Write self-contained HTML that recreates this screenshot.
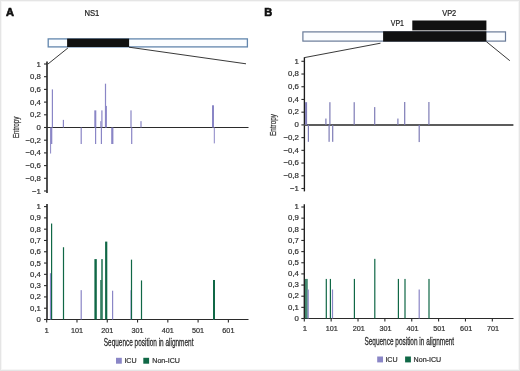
<!DOCTYPE html>
<html><head><meta charset="utf-8"><style>
html,body{margin:0;padding:0;background:#fff;}
body{width:520px;height:371px;overflow:hidden;position:relative;}
.frame{position:absolute;left:0;top:0;width:518px;height:369px;border:1px solid #e5e5e5;}
.inner{position:absolute;left:1px;top:1px;width:516px;height:367px;border:1px solid #f6f6f6;}
svg{position:absolute;left:0;top:0;font-family:"Liberation Sans", sans-serif;will-change:transform;}
</style></head><body>
<div class="frame"></div><div class="inner"></div>
<svg width="520" height="371" viewBox="0 0 520 371">
<text x="6" y="15.8" font-size="11" text-anchor="start" fill="#111" font-weight="bold" stroke="#111" stroke-width="0.65">A</text>
<text x="84.4" y="15.7" font-size="8.2" text-anchor="start" fill="#222" font-weight="normal" stroke="#222" stroke-width="0.22" textLength="14.9" lengthAdjust="spacingAndGlyphs">NS1</text>
<rect x="48.2" y="38.9" width="199.2" height="8.0" fill="#fbfdff" stroke="#6286ad" stroke-width="1.3"/>
<rect x="67.1" y="38.6" width="62" height="8.4" fill="#111"/>
<line x1="67.9" y1="48.0" x2="47.6" y2="64.3" stroke="#222" stroke-width="0.9"/>
<line x1="129" y1="47.2" x2="246" y2="63.8" stroke="#222" stroke-width="0.9"/>
<line x1="47" y1="61.4" x2="47" y2="193" stroke="#3c3c3c" stroke-width="1.8"/>
<line x1="44" y1="64.0" x2="47" y2="64.0" stroke="#2b2b2b" stroke-width="1.1"/>
<text x="40.9" y="66.55" font-size="7.8" text-anchor="end" fill="#333" font-weight="normal" stroke="#333" stroke-width="0.22">1</text>
<line x1="44" y1="76.7" x2="47" y2="76.7" stroke="#2b2b2b" stroke-width="1.1"/>
<text x="40.9" y="79.25" font-size="7.8" text-anchor="end" fill="#333" font-weight="normal" stroke="#333" stroke-width="0.22">0,8</text>
<line x1="44" y1="89.4" x2="47" y2="89.4" stroke="#2b2b2b" stroke-width="1.1"/>
<text x="40.9" y="91.95" font-size="7.8" text-anchor="end" fill="#333" font-weight="normal" stroke="#333" stroke-width="0.22">0,6</text>
<line x1="44" y1="102.1" x2="47" y2="102.1" stroke="#2b2b2b" stroke-width="1.1"/>
<text x="40.9" y="104.64999999999999" font-size="7.8" text-anchor="end" fill="#333" font-weight="normal" stroke="#333" stroke-width="0.22">0,4</text>
<line x1="44" y1="114.8" x2="47" y2="114.8" stroke="#2b2b2b" stroke-width="1.1"/>
<text x="40.9" y="117.35" font-size="7.8" text-anchor="end" fill="#333" font-weight="normal" stroke="#333" stroke-width="0.22">0,2</text>
<line x1="44" y1="127.5" x2="47" y2="127.5" stroke="#2b2b2b" stroke-width="1.1"/>
<text x="40.9" y="130.05" font-size="7.8" text-anchor="end" fill="#333" font-weight="normal" stroke="#333" stroke-width="0.22">0</text>
<line x1="44" y1="140.2" x2="47" y2="140.2" stroke="#2b2b2b" stroke-width="1.1"/>
<text x="40.9" y="142.75" font-size="7.8" text-anchor="end" fill="#333" font-weight="normal" stroke="#333" stroke-width="0.22">−0,2</text>
<line x1="44" y1="152.9" x2="47" y2="152.9" stroke="#2b2b2b" stroke-width="1.1"/>
<text x="40.9" y="155.45000000000002" font-size="7.8" text-anchor="end" fill="#333" font-weight="normal" stroke="#333" stroke-width="0.22">−0,4</text>
<line x1="44" y1="165.6" x2="47" y2="165.6" stroke="#2b2b2b" stroke-width="1.1"/>
<text x="40.9" y="168.15" font-size="7.8" text-anchor="end" fill="#333" font-weight="normal" stroke="#333" stroke-width="0.22">−0,6</text>
<line x1="44" y1="178.3" x2="47" y2="178.3" stroke="#2b2b2b" stroke-width="1.1"/>
<text x="40.9" y="180.85000000000002" font-size="7.8" text-anchor="end" fill="#333" font-weight="normal" stroke="#333" stroke-width="0.22">−0,8</text>
<line x1="44" y1="191.0" x2="47" y2="191.0" stroke="#2b2b2b" stroke-width="1.1"/>
<text x="40.9" y="193.55" font-size="7.8" text-anchor="end" fill="#333" font-weight="normal" stroke="#333" stroke-width="0.22">−1</text>
<line x1="47" y1="127.5" x2="248.5" y2="127.5" stroke="#2b2b2b" stroke-width="1.1"/>
<rect x="51.8" y="89.4" width="1.2" height="38.1" fill="#8a86c6"/>
<rect x="62.8" y="119.88" width="1.2" height="7.62" fill="#8a86c6"/>
<rect x="94.3" y="110.36" width="2" height="17.14" fill="#8a86c6"/>
<rect x="100.3" y="121.15" width="1" height="6.35" fill="#8a86c6"/>
<rect x="101.3" y="110.36" width="1.2" height="17.14" fill="#8a86c6"/>
<rect x="104.9" y="83.69" width="1.2" height="43.81" fill="#8a86c6"/>
<rect x="105.7" y="105.91" width="1.2" height="21.59" fill="#8a86c6"/>
<rect x="130.4" y="110.36" width="1.2" height="17.14" fill="#8a86c6"/>
<rect x="140.4" y="121.15" width="1.2" height="6.35" fill="#8a86c6"/>
<rect x="212.0" y="105.28" width="2" height="22.22" fill="#8a86c6"/>
<rect x="50.1" y="127.5" width="1" height="26.03" fill="#8a86c6"/>
<rect x="50.9" y="127.5" width="1.4" height="16.51" fill="#8a86c6"/>
<rect x="80.6" y="127.5" width="1.2" height="16.51" fill="#8a86c6"/>
<rect x="95.0" y="127.5" width="1.2" height="16.51" fill="#8a86c6"/>
<rect x="100.8" y="127.5" width="1.2" height="16.51" fill="#8a86c6"/>
<rect x="111.2" y="127.5" width="2.2" height="16.51" fill="#8a86c6"/>
<rect x="131.1" y="127.5" width="1.2" height="16.51" fill="#8a86c6"/>
<rect x="213.8" y="127.5" width="1" height="15.88" fill="#8a86c6"/>
<text x="0" y="0" font-size="8.2" text-anchor="middle" fill="#333" stroke="#333" stroke-width="0.22" textLength="21.8" lengthAdjust="spacingAndGlyphs" transform="translate(19.3,127.4) rotate(-90)">Entropy</text>
<line x1="47" y1="204" x2="47" y2="319.5" stroke="#3c3c3c" stroke-width="1.8"/>
<line x1="44" y1="206.6" x2="47" y2="206.6" stroke="#2b2b2b" stroke-width="1.1"/>
<text x="40.9" y="209.15" font-size="7.8" text-anchor="end" fill="#333" font-weight="normal" stroke="#333" stroke-width="0.22">1</text>
<line x1="44" y1="217.89" x2="47" y2="217.89" stroke="#2b2b2b" stroke-width="1.1"/>
<text x="40.9" y="220.44" font-size="7.8" text-anchor="end" fill="#333" font-weight="normal" stroke="#333" stroke-width="0.22">0,9</text>
<line x1="44" y1="229.18" x2="47" y2="229.18" stroke="#2b2b2b" stroke-width="1.1"/>
<text x="40.9" y="231.73000000000002" font-size="7.8" text-anchor="end" fill="#333" font-weight="normal" stroke="#333" stroke-width="0.22">0,8</text>
<line x1="44" y1="240.47" x2="47" y2="240.47" stroke="#2b2b2b" stroke-width="1.1"/>
<text x="40.9" y="243.02" font-size="7.8" text-anchor="end" fill="#333" font-weight="normal" stroke="#333" stroke-width="0.22">0,7</text>
<line x1="44" y1="251.76" x2="47" y2="251.76" stroke="#2b2b2b" stroke-width="1.1"/>
<text x="40.9" y="254.31" font-size="7.8" text-anchor="end" fill="#333" font-weight="normal" stroke="#333" stroke-width="0.22">0,6</text>
<line x1="44" y1="263.05" x2="47" y2="263.05" stroke="#2b2b2b" stroke-width="1.1"/>
<text x="40.9" y="265.6" font-size="7.8" text-anchor="end" fill="#333" font-weight="normal" stroke="#333" stroke-width="0.22">0,5</text>
<line x1="44" y1="274.34000000000003" x2="47" y2="274.34000000000003" stroke="#2b2b2b" stroke-width="1.1"/>
<text x="40.9" y="276.89000000000004" font-size="7.8" text-anchor="end" fill="#333" font-weight="normal" stroke="#333" stroke-width="0.22">0,4</text>
<line x1="44" y1="285.63" x2="47" y2="285.63" stroke="#2b2b2b" stroke-width="1.1"/>
<text x="40.9" y="288.18" font-size="7.8" text-anchor="end" fill="#333" font-weight="normal" stroke="#333" stroke-width="0.22">0,3</text>
<line x1="44" y1="296.92" x2="47" y2="296.92" stroke="#2b2b2b" stroke-width="1.1"/>
<text x="40.9" y="299.47" font-size="7.8" text-anchor="end" fill="#333" font-weight="normal" stroke="#333" stroke-width="0.22">0,2</text>
<line x1="44" y1="308.21" x2="47" y2="308.21" stroke="#2b2b2b" stroke-width="1.1"/>
<text x="40.9" y="310.76" font-size="7.8" text-anchor="end" fill="#333" font-weight="normal" stroke="#333" stroke-width="0.22">0,1</text>
<line x1="44" y1="319.5" x2="47" y2="319.5" stroke="#2b2b2b" stroke-width="1.1"/>
<text x="40.9" y="322.05" font-size="7.8" text-anchor="end" fill="#333" font-weight="normal" stroke="#333" stroke-width="0.22">0</text>
<line x1="47" y1="319.5" x2="248.5" y2="319.5" stroke="#2b2b2b" stroke-width="1.1"/>
<line x1="46.7" y1="319.5" x2="46.7" y2="322.5" stroke="#2b2b2b" stroke-width="1.1"/>
<text x="46.7" y="332.5" font-size="7.8" text-anchor="middle" fill="#333" font-weight="normal" stroke="#333" stroke-width="0.22">1</text>
<line x1="76.98" y1="319.5" x2="76.98" y2="322.5" stroke="#2b2b2b" stroke-width="1.1"/>
<text x="76.98" y="332.5" font-size="7.8" text-anchor="middle" fill="#333" font-weight="normal" stroke="#333" stroke-width="0.22" textLength="12.1" lengthAdjust="spacingAndGlyphs">101</text>
<line x1="107.26" y1="319.5" x2="107.26" y2="322.5" stroke="#2b2b2b" stroke-width="1.1"/>
<text x="107.26" y="332.5" font-size="7.8" text-anchor="middle" fill="#333" font-weight="normal" stroke="#333" stroke-width="0.22" textLength="12.1" lengthAdjust="spacingAndGlyphs">201</text>
<line x1="137.54000000000002" y1="319.5" x2="137.54000000000002" y2="322.5" stroke="#2b2b2b" stroke-width="1.1"/>
<text x="137.54000000000002" y="332.5" font-size="7.8" text-anchor="middle" fill="#333" font-weight="normal" stroke="#333" stroke-width="0.22" textLength="12.1" lengthAdjust="spacingAndGlyphs">301</text>
<line x1="167.82" y1="319.5" x2="167.82" y2="322.5" stroke="#2b2b2b" stroke-width="1.1"/>
<text x="167.82" y="332.5" font-size="7.8" text-anchor="middle" fill="#333" font-weight="normal" stroke="#333" stroke-width="0.22" textLength="12.1" lengthAdjust="spacingAndGlyphs">401</text>
<line x1="198.10000000000002" y1="319.5" x2="198.10000000000002" y2="322.5" stroke="#2b2b2b" stroke-width="1.1"/>
<text x="198.10000000000002" y="332.5" font-size="7.8" text-anchor="middle" fill="#333" font-weight="normal" stroke="#333" stroke-width="0.22" textLength="12.1" lengthAdjust="spacingAndGlyphs">501</text>
<line x1="228.38" y1="319.5" x2="228.38" y2="322.5" stroke="#2b2b2b" stroke-width="1.1"/>
<text x="228.38" y="332.5" font-size="7.8" text-anchor="middle" fill="#333" font-weight="normal" stroke="#333" stroke-width="0.22" textLength="12.1" lengthAdjust="spacingAndGlyphs">601</text>
<rect x="49.9" y="273.21" width="1.2" height="46.29" fill="#8a86c6"/>
<rect x="51.0" y="223.53" width="1.2" height="95.97" fill="#106846"/>
<rect x="62.9" y="247.24" width="1.2" height="72.26" fill="#106846"/>
<rect x="80.6" y="290.15" width="1.2" height="29.35" fill="#8a86c6"/>
<rect x="94.4" y="259.1" width="2.4" height="60.4" fill="#106846"/>
<rect x="100.3" y="279.99" width="1.2" height="39.51" fill="#106846"/>
<rect x="101.3" y="259.1" width="1.4" height="60.4" fill="#106846"/>
<rect x="105.1" y="241.6" width="2.2" height="77.9" fill="#106846"/>
<rect x="112.0" y="290.71" width="1.2" height="28.79" fill="#8a86c6"/>
<rect x="130.5" y="290.15" width="1.0" height="29.35" fill="#8a86c6"/>
<rect x="130.9" y="259.66" width="1.2" height="59.84" fill="#106846"/>
<rect x="140.9" y="280.44" width="1.2" height="39.06" fill="#106846"/>
<rect x="213.0" y="291.27" width="1.0" height="28.23" fill="#8a86c6"/>
<rect x="213.0" y="279.99" width="2.0" height="39.51" fill="#106846"/>
<text x="148.6" y="345.6" font-size="11" text-anchor="middle" fill="#2a2a2a" font-weight="normal" stroke="#2a2a2a" stroke-width="0.28" textLength="89.7" lengthAdjust="spacingAndGlyphs">Sequence position in alignment</text>
<rect x="116.0" y="357.8" width="5.8" height="5.9" fill="#8a86c6"/>
<text x="124.4" y="362.5" font-size="7.1" text-anchor="start" fill="#333" font-weight="normal" stroke="#333" stroke-width="0.22">ICU</text>
<rect x="143.3" y="357.8" width="5.8" height="5.9" fill="#106846"/>
<text x="152.3" y="362.5" font-size="7.1" text-anchor="start" fill="#333" font-weight="normal" stroke="#333" stroke-width="0.22">Non-ICU</text>
<text x="264.2" y="16.1" font-size="11" text-anchor="start" fill="#111" font-weight="bold" stroke="#111" stroke-width="0.65">B</text>
<text x="442.2" y="16.0" font-size="8.2" text-anchor="start" fill="#222" font-weight="normal" stroke="#222" stroke-width="0.22" textLength="14.0" lengthAdjust="spacingAndGlyphs">VP2</text>
<text x="390.8" y="26.4" font-size="8.2" text-anchor="start" fill="#222" font-weight="normal" stroke="#222" stroke-width="0.22" textLength="13.2" lengthAdjust="spacingAndGlyphs">VP1</text>
<rect x="412.3" y="20.5" width="74.1" height="9.9" fill="#111"/>
<rect x="302.9" y="31.9" width="202.6" height="9.2" fill="#fbfdff" stroke="#687a98" stroke-width="1.2"/>
<rect x="383.1" y="31.3" width="103.3" height="10.3" fill="#111"/>
<line x1="380.5" y1="43.2" x2="304.4" y2="57.6" stroke="#222" stroke-width="0.9"/>
<line x1="486.3" y1="41.6" x2="509.8" y2="60.7" stroke="#222" stroke-width="0.9"/>
<line x1="304.4" y1="57.3" x2="304.4" y2="191.4" stroke="#1c1c1c" stroke-width="1.35"/>
<line x1="301.4" y1="61.3" x2="304.4" y2="61.3" stroke="#2b2b2b" stroke-width="1.1"/>
<text x="298.9" y="63.5" font-size="7.8" text-anchor="end" fill="#333" font-weight="normal" stroke="#333" stroke-width="0.22">1</text>
<line x1="301.4" y1="74.02" x2="304.4" y2="74.02" stroke="#2b2b2b" stroke-width="1.1"/>
<text x="298.9" y="76.22" font-size="7.8" text-anchor="end" fill="#333" font-weight="normal" stroke="#333" stroke-width="0.22">0,8</text>
<line x1="301.4" y1="86.74" x2="304.4" y2="86.74" stroke="#2b2b2b" stroke-width="1.1"/>
<text x="298.9" y="88.94" font-size="7.8" text-anchor="end" fill="#333" font-weight="normal" stroke="#333" stroke-width="0.22">0,6</text>
<line x1="301.4" y1="99.46000000000001" x2="304.4" y2="99.46000000000001" stroke="#2b2b2b" stroke-width="1.1"/>
<text x="298.9" y="101.66000000000001" font-size="7.8" text-anchor="end" fill="#333" font-weight="normal" stroke="#333" stroke-width="0.22">0,4</text>
<line x1="301.4" y1="112.18" x2="304.4" y2="112.18" stroke="#2b2b2b" stroke-width="1.1"/>
<text x="298.9" y="114.38000000000001" font-size="7.8" text-anchor="end" fill="#333" font-weight="normal" stroke="#333" stroke-width="0.22">0,2</text>
<line x1="301.4" y1="124.9" x2="304.4" y2="124.9" stroke="#2b2b2b" stroke-width="1.1"/>
<text x="298.9" y="127.10000000000001" font-size="7.8" text-anchor="end" fill="#333" font-weight="normal" stroke="#333" stroke-width="0.22">0</text>
<line x1="301.4" y1="137.62" x2="304.4" y2="137.62" stroke="#2b2b2b" stroke-width="1.1"/>
<text x="298.9" y="139.82" font-size="7.8" text-anchor="end" fill="#333" font-weight="normal" stroke="#333" stroke-width="0.22">−0,2</text>
<line x1="301.4" y1="150.33999999999997" x2="304.4" y2="150.33999999999997" stroke="#2b2b2b" stroke-width="1.1"/>
<text x="298.9" y="152.53999999999996" font-size="7.8" text-anchor="end" fill="#333" font-weight="normal" stroke="#333" stroke-width="0.22">−0,4</text>
<line x1="301.4" y1="163.06" x2="304.4" y2="163.06" stroke="#2b2b2b" stroke-width="1.1"/>
<text x="298.9" y="165.26" font-size="7.8" text-anchor="end" fill="#333" font-weight="normal" stroke="#333" stroke-width="0.22">−0,6</text>
<line x1="301.4" y1="175.77999999999997" x2="304.4" y2="175.77999999999997" stroke="#2b2b2b" stroke-width="1.1"/>
<text x="298.9" y="177.97999999999996" font-size="7.8" text-anchor="end" fill="#333" font-weight="normal" stroke="#333" stroke-width="0.22">−0,8</text>
<line x1="301.4" y1="188.5" x2="304.4" y2="188.5" stroke="#2b2b2b" stroke-width="1.1"/>
<text x="298.9" y="190.7" font-size="7.8" text-anchor="end" fill="#333" font-weight="normal" stroke="#333" stroke-width="0.22">−1</text>
<line x1="304.4" y1="125.0" x2="513.4" y2="125.0" stroke="#5c5c5c" stroke-width="2.0"/>
<rect x="305.1" y="102.19" width="2" height="22.71" fill="#7e7cb6"/>
<rect x="325.3" y="118.54" width="1.2" height="6.36" fill="#7e7cb6"/>
<rect x="329.3" y="102.19" width="1.2" height="22.71" fill="#7e7cb6"/>
<rect x="353.6" y="102.19" width="1.2" height="22.71" fill="#7e7cb6"/>
<rect x="374.1" y="107.09" width="1.2" height="17.81" fill="#7e7cb6"/>
<rect x="397.3" y="118.54" width="1.2" height="6.36" fill="#7e7cb6"/>
<rect x="404.1" y="102.0" width="1.2" height="22.9" fill="#7e7cb6"/>
<rect x="428.3" y="102.0" width="1.2" height="22.9" fill="#7e7cb6"/>
<rect x="307.8" y="124.9" width="1.2" height="16.92" fill="#7e7cb6"/>
<rect x="328.5" y="124.9" width="1.2" height="16.92" fill="#7e7cb6"/>
<rect x="332.1" y="124.9" width="1.2" height="16.92" fill="#7e7cb6"/>
<rect x="418.6" y="124.9" width="1.2" height="17.17" fill="#7e7cb6"/>
<text x="0" y="0" font-size="8.2" text-anchor="middle" fill="#333" stroke="#333" stroke-width="0.22" textLength="21.8" lengthAdjust="spacingAndGlyphs" transform="translate(276.3,125.0) rotate(-90)">Entropy</text>
<line x1="304.3" y1="204.2" x2="304.3" y2="318.5" stroke="#1c1c1c" stroke-width="1.35"/>
<line x1="301.3" y1="207.0" x2="304.3" y2="207.0" stroke="#2b2b2b" stroke-width="1.1"/>
<text x="298.9" y="209.2" font-size="7.8" text-anchor="end" fill="#333" font-weight="normal" stroke="#333" stroke-width="0.22">1</text>
<line x1="301.3" y1="218.15" x2="304.3" y2="218.15" stroke="#2b2b2b" stroke-width="1.1"/>
<text x="298.9" y="220.35" font-size="7.8" text-anchor="end" fill="#333" font-weight="normal" stroke="#333" stroke-width="0.22">0,9</text>
<line x1="301.3" y1="229.3" x2="304.3" y2="229.3" stroke="#2b2b2b" stroke-width="1.1"/>
<text x="298.9" y="231.5" font-size="7.8" text-anchor="end" fill="#333" font-weight="normal" stroke="#333" stroke-width="0.22">0,8</text>
<line x1="301.3" y1="240.45" x2="304.3" y2="240.45" stroke="#2b2b2b" stroke-width="1.1"/>
<text x="298.9" y="242.64999999999998" font-size="7.8" text-anchor="end" fill="#333" font-weight="normal" stroke="#333" stroke-width="0.22">0,7</text>
<line x1="301.3" y1="251.6" x2="304.3" y2="251.6" stroke="#2b2b2b" stroke-width="1.1"/>
<text x="298.9" y="253.79999999999998" font-size="7.8" text-anchor="end" fill="#333" font-weight="normal" stroke="#333" stroke-width="0.22">0,6</text>
<line x1="301.3" y1="262.75" x2="304.3" y2="262.75" stroke="#2b2b2b" stroke-width="1.1"/>
<text x="298.9" y="264.95" font-size="7.8" text-anchor="end" fill="#333" font-weight="normal" stroke="#333" stroke-width="0.22">0,5</text>
<line x1="301.3" y1="273.9" x2="304.3" y2="273.9" stroke="#2b2b2b" stroke-width="1.1"/>
<text x="298.9" y="276.09999999999997" font-size="7.8" text-anchor="end" fill="#333" font-weight="normal" stroke="#333" stroke-width="0.22">0,4</text>
<line x1="301.3" y1="285.05" x2="304.3" y2="285.05" stroke="#2b2b2b" stroke-width="1.1"/>
<text x="298.9" y="287.25" font-size="7.8" text-anchor="end" fill="#333" font-weight="normal" stroke="#333" stroke-width="0.22">0,3</text>
<line x1="301.3" y1="296.2" x2="304.3" y2="296.2" stroke="#2b2b2b" stroke-width="1.1"/>
<text x="298.9" y="298.4" font-size="7.8" text-anchor="end" fill="#333" font-weight="normal" stroke="#333" stroke-width="0.22">0,2</text>
<line x1="301.3" y1="307.35" x2="304.3" y2="307.35" stroke="#2b2b2b" stroke-width="1.1"/>
<text x="298.9" y="309.55" font-size="7.8" text-anchor="end" fill="#333" font-weight="normal" stroke="#333" stroke-width="0.22">0,1</text>
<line x1="301.3" y1="318.5" x2="304.3" y2="318.5" stroke="#2b2b2b" stroke-width="1.1"/>
<text x="298.9" y="320.7" font-size="7.8" text-anchor="end" fill="#333" font-weight="normal" stroke="#333" stroke-width="0.22">0</text>
<line x1="304.3" y1="318.5" x2="513.5" y2="318.5" stroke="#2b2b2b" stroke-width="1.1"/>
<line x1="304.3" y1="318.5" x2="304.3" y2="321.5" stroke="#2b2b2b" stroke-width="1.1"/>
<text x="305.0" y="331.3" font-size="7.8" text-anchor="middle" fill="#333" font-weight="normal" stroke="#333" stroke-width="0.22">1</text>
<line x1="331.16" y1="318.5" x2="331.16" y2="321.5" stroke="#2b2b2b" stroke-width="1.1"/>
<text x="331.86" y="331.3" font-size="7.8" text-anchor="middle" fill="#333" font-weight="normal" stroke="#333" stroke-width="0.22" textLength="12.1" lengthAdjust="spacingAndGlyphs">101</text>
<line x1="358.02" y1="318.5" x2="358.02" y2="321.5" stroke="#2b2b2b" stroke-width="1.1"/>
<text x="358.71999999999997" y="331.3" font-size="7.8" text-anchor="middle" fill="#333" font-weight="normal" stroke="#333" stroke-width="0.22" textLength="12.1" lengthAdjust="spacingAndGlyphs">201</text>
<line x1="384.88" y1="318.5" x2="384.88" y2="321.5" stroke="#2b2b2b" stroke-width="1.1"/>
<text x="385.58" y="331.3" font-size="7.8" text-anchor="middle" fill="#333" font-weight="normal" stroke="#333" stroke-width="0.22" textLength="12.1" lengthAdjust="spacingAndGlyphs">301</text>
<line x1="411.74" y1="318.5" x2="411.74" y2="321.5" stroke="#2b2b2b" stroke-width="1.1"/>
<text x="412.44" y="331.3" font-size="7.8" text-anchor="middle" fill="#333" font-weight="normal" stroke="#333" stroke-width="0.22" textLength="12.1" lengthAdjust="spacingAndGlyphs">401</text>
<line x1="438.6" y1="318.5" x2="438.6" y2="321.5" stroke="#2b2b2b" stroke-width="1.1"/>
<text x="439.3" y="331.3" font-size="7.8" text-anchor="middle" fill="#333" font-weight="normal" stroke="#333" stroke-width="0.22" textLength="12.1" lengthAdjust="spacingAndGlyphs">501</text>
<line x1="465.46000000000004" y1="318.5" x2="465.46000000000004" y2="321.5" stroke="#2b2b2b" stroke-width="1.1"/>
<text x="466.16" y="331.3" font-size="7.8" text-anchor="middle" fill="#333" font-weight="normal" stroke="#333" stroke-width="0.22" textLength="12.1" lengthAdjust="spacingAndGlyphs">601</text>
<line x1="492.32" y1="318.5" x2="492.32" y2="321.5" stroke="#2b2b2b" stroke-width="1.1"/>
<text x="493.02" y="331.3" font-size="7.8" text-anchor="middle" fill="#333" font-weight="normal" stroke="#333" stroke-width="0.22" textLength="12.1" lengthAdjust="spacingAndGlyphs">701</text>
<rect x="305.2" y="278.92" width="1.2" height="39.58" fill="#106846"/>
<rect x="306.4" y="278.92" width="1.2" height="39.58" fill="#106846"/>
<rect x="307.6" y="289.51" width="1.2" height="28.99" fill="#8a86c6"/>
<rect x="325.7" y="278.92" width="1.2" height="39.58" fill="#106846"/>
<rect x="329.8" y="278.92" width="1.2" height="39.58" fill="#106846"/>
<rect x="331.9" y="289.51" width="1.2" height="28.99" fill="#8a86c6"/>
<rect x="353.8" y="278.92" width="1.2" height="39.58" fill="#106846"/>
<rect x="374.2" y="258.85" width="1.2" height="59.65" fill="#106846"/>
<rect x="397.8" y="278.92" width="1.2" height="39.58" fill="#106846"/>
<rect x="404.4" y="278.92" width="1.2" height="39.58" fill="#106846"/>
<rect x="418.6" y="289.51" width="1.2" height="28.99" fill="#8a86c6"/>
<rect x="428.4" y="278.92" width="1.2" height="39.58" fill="#106846"/>
<text x="409.3" y="345.4" font-size="11" text-anchor="middle" fill="#2a2a2a" font-weight="normal" stroke="#2a2a2a" stroke-width="0.28" textLength="89.7" lengthAdjust="spacingAndGlyphs">Sequence position in alignment</text>
<rect x="377.2" y="356.5" width="5.8" height="5.9" fill="#8a86c6"/>
<text x="385.4" y="361.5" font-size="7.1" text-anchor="start" fill="#333" font-weight="normal" stroke="#333" stroke-width="0.22">ICU</text>
<rect x="405.1" y="356.5" width="5.8" height="5.9" fill="#106846"/>
<text x="413.6" y="361.5" font-size="7.1" text-anchor="start" fill="#333" font-weight="normal" stroke="#333" stroke-width="0.22">Non-ICU</text>
</svg>
</body></html>
